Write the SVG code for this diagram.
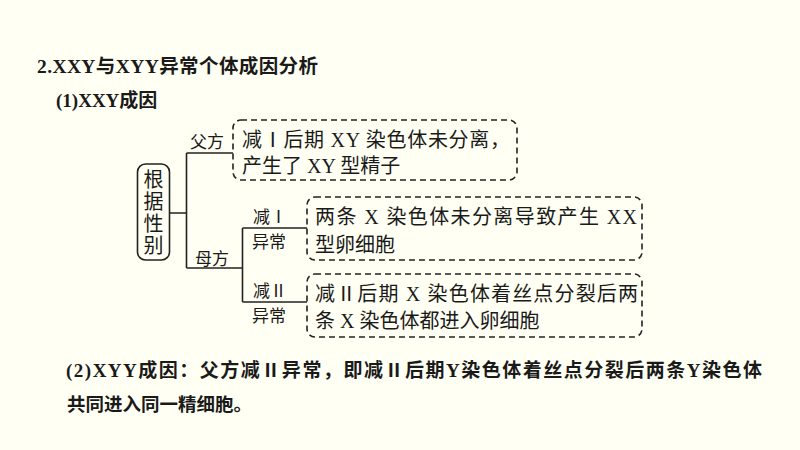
<svg xmlns="http://www.w3.org/2000/svg" width="800" height="450" viewBox="0 0 800 450">
<style>
.t{font-family:"Liberation Serif","Noto Sans CJK SC",serif;fill:#1a1a1a}
.b{font-weight:bold}
.box{fill:none;stroke:#222;stroke-width:1.6;stroke-dasharray:6 4}
.ln{fill:none;stroke:#222;stroke-width:1.6}
.lbl{font-size:17px}
.bt{font-size:20px}
</style>
<rect width="800" height="450" fill="#fffff3"/>
<text class="t b" x="37" y="73" font-size="19.5" textLength="281" lengthAdjust="spacing">2.XXY与XYY异常个体成因分析</text>
<text class="t b" x="56" y="107" font-size="19">(1)XXY成因</text>

<g id="root">
<rect x="137.5" y="164" width="32" height="96" rx="8" fill="none" stroke="#222" stroke-width="1.6"/>
<text class="t" x="153.5" font-size="20" text-anchor="middle"><tspan x="153.5" y="187">根</tspan><tspan x="153.5" y="209">据</tspan><tspan x="153.5" y="231">性</tspan><tspan x="153.5" y="253">别</tspan></text>
</g>

<g id="connectors">
<path class="ln" d="M169.5 213 H186.5 M186.5 153 V268 M186.5 153 H233 M186.5 268 H242.5 M242.5 228 V302 M242.5 228 H307 M242.5 302 H307"/>
</g>

<g id="labels">
<text class="t lbl" x="190" y="148">父方</text>
<text class="t lbl" x="195" y="265">母方</text>
<text class="t lbl" x="253" y="223">减Ⅰ</text>
<text class="t lbl" x="252" y="248">异常</text>
<text class="t lbl" x="253" y="297">减Ⅱ</text>
<text class="t lbl" x="252" y="322">异常</text>
</g>

<g id="box1">
<rect class="box" x="233" y="120" width="284" height="60" rx="8"/>
<text class="t bt" x="242" y="147" textLength="268" lengthAdjust="spacing">减Ⅰ后期 XY 染色体未分离，</text>
<text class="t bt" x="242" y="173">产生了 XY 型精子</text>
</g>

<g id="box2">
<rect class="box" x="307" y="197" width="335" height="63" rx="8"/>
<text class="t bt" x="315" y="224" textLength="322" lengthAdjust="spacing">两条 X 染色体未分离导致产生 XX</text>
<text class="t bt" x="315" y="252">型卵细胞</text>
</g>

<g id="box3">
<rect class="box" x="307" y="274" width="335" height="63" rx="8"/>
<text class="t bt" x="315" y="301" textLength="323" lengthAdjust="spacing">减Ⅱ后期 X 染色体着丝点分裂后两</text>
<text class="t bt" x="315" y="328">条 X 染色体都进入卵细胞</text>
</g>

<text class="t b" x="66" y="377" font-size="19" textLength="696" lengthAdjust="spacing">(2)XYY成因：父方减Ⅱ异常，即减Ⅱ后期Y染色体着丝点分裂后两条Y染色体</text>
<text class="t b" x="67" y="411" font-size="18.5">共同进入同一精细胞。</text>
</svg>
